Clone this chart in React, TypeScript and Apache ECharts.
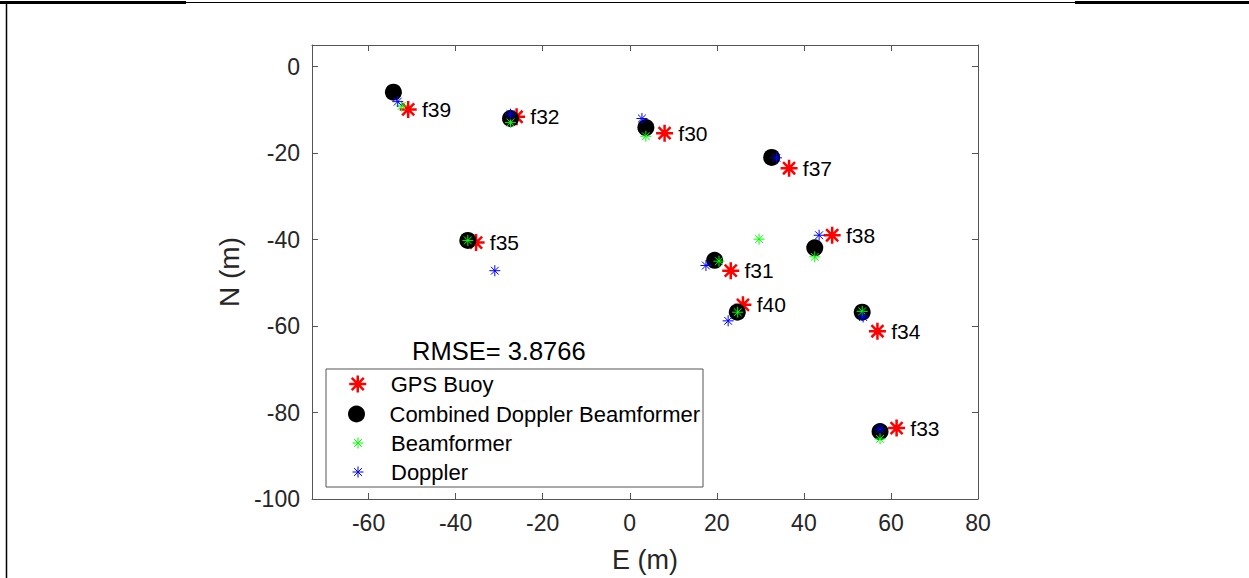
import React, { useEffect, useRef } from "react";
import * as echarts from "echarts";

const targets = ["f39", "f32", "f30", "f37", "f38", "f35", "f31", "f40", "f34", "f33"];
const gpsE = [-50.9, -26.0, 8.0, 36.6, 46.5, -35.3, 23.2, 26.0, 56.9, 61.3];
const gpsN = [-9.9, -11.6, -15.4, -23.5, -39.0, -40.7, -47.2, -55.1, -61.2, -83.6];
const combE = [-54.3, -27.4, 3.7, 32.6, 42.5, -37.2, 19.5, 24.7, 53.4, 57.5];
const combN = [-5.9, -12.0, -14.1, -21.0, -41.9, -40.2, -44.8, -56.8, -56.8, -84.4];
const beamE = [-52.4, -27.4, 3.7, 29.7, 42.5, -37.2, 20.5, 24.8, 53.4, 57.5];
const beamN = [-9.1, -12.9, -16.1, -39.9, -44.0, -40.2, -45.0, -56.8, -56.6, -86.1];
const dopE = [-53.3, -27.4, 2.8, 33.7, 43.5, -31.0, 17.5, 22.6, 53.6, 57.5];
const dopN = [-8.1, -11.0, -12.0, -21.1, -39.0, -47.2, -46.0, -58.8, -57.9, -83.8];

const xTicks = [-60, -40, -20, 0, 20, 40, 60, 80];
const yTicks = [-100, -80, -60, -40, -20, 0];
const seriesNames = ["GPS Buoy", "Combined Doppler Beamformer", "Beamformer", "Doppler"];
const rmseText = "RMSE= 3.8766";

const STAR = "path://M5 0L5 10M0 5L10 5M1.46 1.46L8.54 8.54M1.46 8.54L8.54 1.46";
const FONT = "Arial, 'Liberation Sans', Helvetica, sans-serif";
const AX = "#555555";
const TXT = "#262626";

function pts(xs: number[], ys: number[], names?: string[]) {
  return xs.map((x, i) => ({ value: [x, ys[i]], name: names ? names[i] : "" }));
}

export default function App() {
  const ref = useRef<HTMLDivElement>(null);
  useEffect(() => {
    if (!ref.current) return;
    const chart = echarts.init(ref.current, undefined, { renderer: "svg" });
    const xBase = {
      type: "value",
      min: -73,
      max: 80,
      splitLine: { show: false },
      axisLine: { show: true, onZero: false, lineStyle: { color: AX, width: 1 } },
      axisTick: { show: true, inside: true, length: 6, customValues: xTicks, lineStyle: { color: AX } },
    };
    const yBase = {
      type: "value",
      min: -100,
      max: 5,
      splitLine: { show: false },
      axisLine: { show: true, onZero: false, lineStyle: { color: AX, width: 1 } },
      axisTick: { show: true, inside: true, length: 6, customValues: yTicks, lineStyle: { color: AX } },
    };
    const legendTops = [373, 403, 432, 461];
    const legendLefts = [348, 348, 352, 352];
    const legendSizes = [17, 17, 11, 11];
    const legendStyles = [
      { color: "#ff0000", borderColor: "#ff0000", borderWidth: 2.5, opacity: 1 },
      { color: "#000000", borderColor: "#000000", borderWidth: 0, opacity: 1 },
      { color: "#00ff00", borderColor: "#00ff00", borderWidth: 1, opacity: 1 },
      { color: "#0000ff", borderColor: "#0000ff", borderWidth: 1, opacity: 1 },
    ];
    chart.setOption({
      animation: false,
      backgroundColor: "#ffffff",
      grid: { left: 312, right: 271, top: 45, bottom: 77, containLabel: false },
      xAxis: [
        {
          ...xBase,
          position: "bottom",
          name: "E (m)",
          nameLocation: "middle",
          nameGap: 47,
          nameTextStyle: { fontSize: 27, color: TXT, fontFamily: FONT },
          axisLabel: { show: true, customValues: xTicks, fontSize: 23, color: TXT, fontFamily: FONT, margin: 12 },
        },
        { ...xBase, position: "top", axisLabel: { show: false } },
      ],
      yAxis: [
        {
          ...yBase,
          position: "left",
          name: "N (m)",
          nameLocation: "middle",
          nameGap: 67,
          nameTextStyle: { fontSize: 28, color: TXT, fontFamily: FONT },
          axisLabel: { show: true, customValues: yTicks, fontSize: 23, color: TXT, fontFamily: FONT, margin: 12 },
        },
        { ...yBase, position: "right", axisLabel: { show: false } },
      ],
      legend: seriesNames.map((n, i) => ({
        data: [n],
        orient: "vertical",
        left: legendLefts[i],
        top: legendTops[i],
        itemWidth: 56,
        itemHeight: legendSizes[i],
        padding: 0,
        selectedMode: false,
        itemStyle: legendStyles[i],
        textStyle: { fontSize: 22, color: "#000", fontFamily: FONT, padding: [0, 0, 0, 0] },
      })),
      graphic: [
        { type: "line", shape: { x1: 0, y1: 2.5, x2: 186, y2: 2.5 }, style: { stroke: "#000", lineWidth: 3 } },
        { type: "line", shape: { x1: 186, y1: 2.5, x2: 1075, y2: 2.5 }, style: { stroke: "#000", lineWidth: 1 } },
        { type: "line", shape: { x1: 1075, y1: 2.5, x2: 1249, y2: 2.5 }, style: { stroke: "#000", lineWidth: 3 } },
        { type: "line", shape: { x1: 6.5, y1: 2, x2: 6.5, y2: 578 }, style: { stroke: "#000", lineWidth: 1.5 } },
        {
          type: "rect",
          z: 3,
          shape: { x: 326, y: 369, width: 377, height: 118 },
          style: { fill: "#ffffff", stroke: AX, lineWidth: 1 },
        },
        {
          type: "text",
          z: 5,
          x: 412,
          y: 351,
          style: { text: rmseText, fontSize: 25.5, fill: "#000", fontFamily: FONT, verticalAlign: "middle", align: "left" },
        },
      ],
      series: [
        {
          name: seriesNames[0],
          type: "scatter",
          symbol: STAR,
          symbolSize: 17,
          z: 2,
          itemStyle: { color: "#ff0000", borderColor: "#ff0000", borderWidth: 2.5, opacity: 1 },
          label: {
            show: true,
            position: "right",
            distance: 4,
            formatter: (p: any) => p.name,
            fontSize: 21,
            color: "#000",
            fontFamily: FONT,
          },
          data: pts(gpsE, gpsN, targets),
        },
        {
          name: seriesNames[1],
          type: "scatter",
          symbol: "circle",
          symbolSize: 17,
          z: 3,
          itemStyle: { color: "#000000", opacity: 1 },
          data: pts(combE, combN),
        },
        {
          name: seriesNames[2],
          type: "scatter",
          symbol: STAR,
          symbolSize: 11,
          z: 4,
          itemStyle: { color: "#00ff00", borderColor: "#00ff00", borderWidth: 1, opacity: 1 },
          data: pts(beamE, beamN),
        },
        {
          name: seriesNames[3],
          type: "scatter",
          symbol: STAR,
          symbolSize: 11,
          z: 5,
          itemStyle: { color: "#0000ff", borderColor: "#0000ff", borderWidth: 1, opacity: 1 },
          data: pts(dopE, dopN),
        },
      ],
    });
    return () => chart.dispose();
  }, []);
  return (
    <div
      ref={ref}
      style={{ position: "absolute", left: 0, top: 0, width: 1249, height: 578, background: "#fff" }}
    />
  );
}
